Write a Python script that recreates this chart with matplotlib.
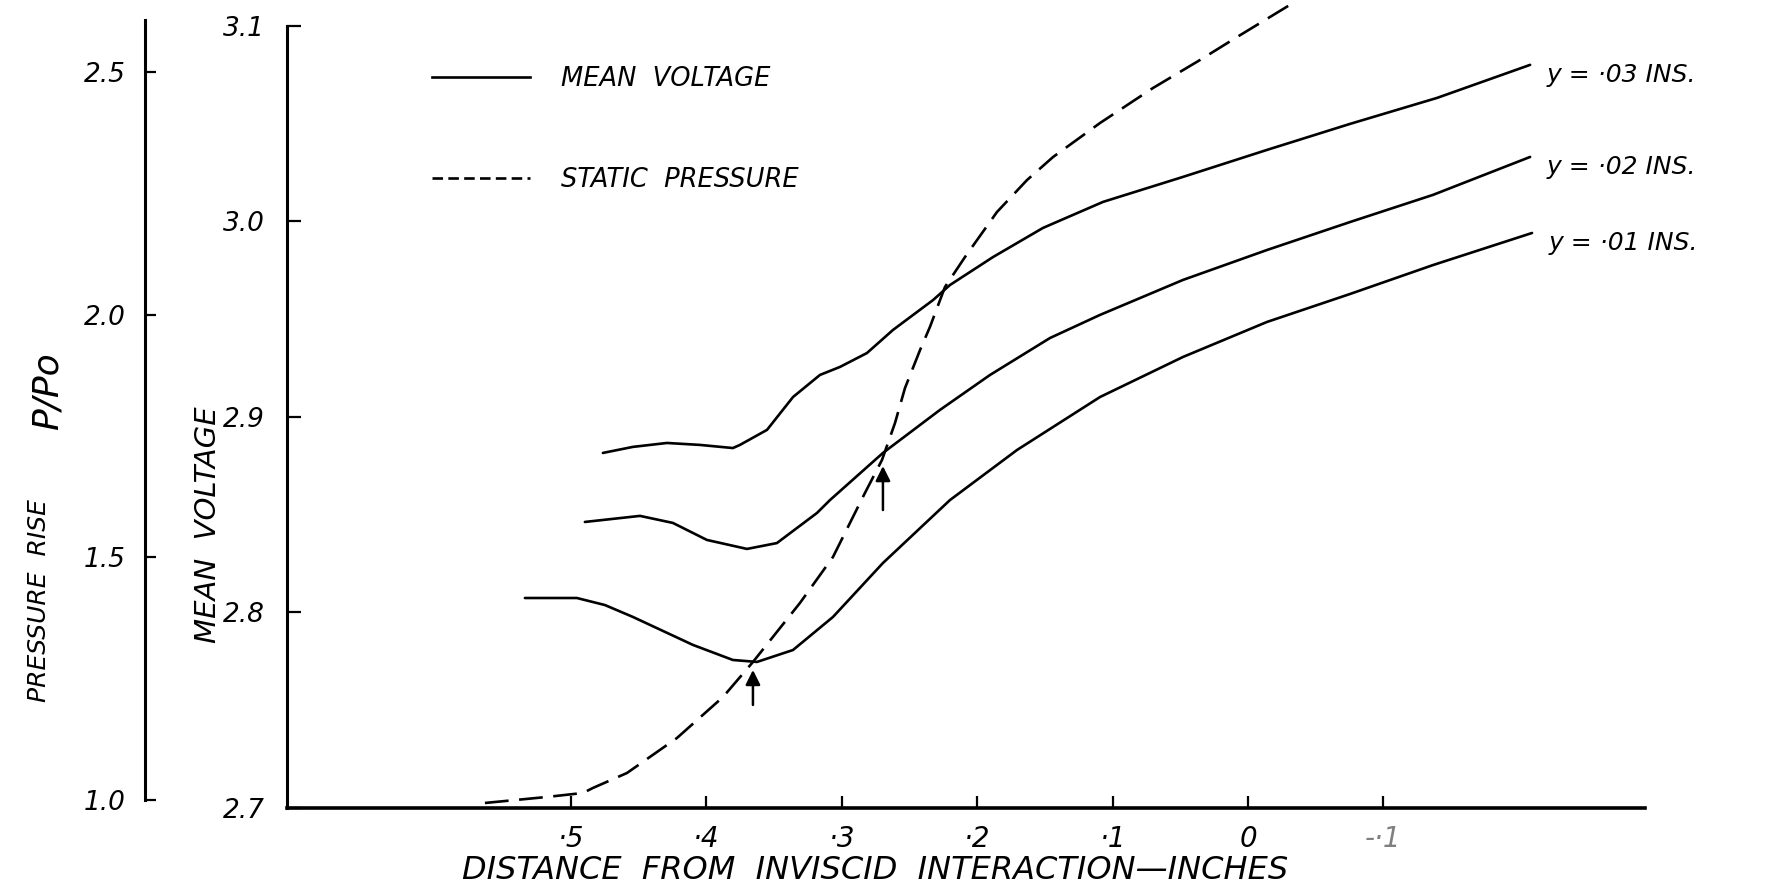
import matplotlib
matplotlib.use('Agg')
import matplotlib.pyplot as plt
from matplotlib.lines import Line2D

plt.rcParams['font.family'] = 'DejaVu Sans'
plt.rcParams['font.style'] = 'italic'

# mean voltage vs distance from inviscid interaction (inches), one trace per probe height
dist_03 = [0.4764, 0.4542, 0.4291, 0.4047, 0.3804, 0.3752, 0.3552, 0.3360, 0.3161,
           0.3013, 0.2814, 0.2622, 0.2326, 0.2201, 0.1883, 0.1514, 0.1071, 0.0480,
           -0.0140, -0.0753, -0.1396, -0.2083]
volt_03 = [2.8816, 2.8847, 2.8867, 2.8857, 2.8841, 2.8857, 2.8934, 2.9102, 2.9215,
           2.9256, 2.9327, 2.9445, 2.9598, 2.9675, 2.9818, 2.9967, 3.0100, 3.0228,
           3.0366, 3.0499, 3.0632, 3.0801]

dist_02 = [0.4897, 0.4490, 0.4247, 0.3996, 0.3700, 0.3479, 0.3183, 0.3087, 0.2696,
           0.2275, 0.1905, 0.1462, 0.1093, 0.0480, -0.0140, -0.0753, -0.1366, -0.2083]
volt_02 = [2.8463, 2.8494, 2.8458, 2.8371, 2.8325, 2.8355, 2.8509, 2.8575, 2.8816,
           2.9036, 2.9215, 2.9404, 2.9522, 2.9701, 2.9854, 2.9997, 3.0136, 3.0330]

dist_01 = [0.5340, 0.4956, 0.4749, 0.4542, 0.4099, 0.3804, 0.3626, 0.3360, 0.3065,
           0.2696, 0.2201, 0.1706, 0.1093, 0.0480, -0.0140, -0.0753, -0.1366, -0.2097]
volt_01 = [2.8074, 2.8074, 2.8038, 2.7977, 2.7834, 2.7757, 2.7747, 2.7808, 2.7977,
           2.8253, 2.8575, 2.8831, 2.9102, 2.9307, 2.9486, 2.9629, 2.9777, 2.9941]

# static pressure rise P/Po
dist_p = [0.5635, 0.5177, 0.4911, 0.4838, 0.4586, 0.4217, 0.3877, 0.3656, 0.3309,
          0.3065, 0.2829, 0.2703, 0.2607, 0.2533, 0.2422, 0.2349, 0.2238, 0.2090,
          0.1854, 0.1632, 0.1440, 0.1093, 0.0702, 0.0355, 0.0081, -0.0332]
press_p = [0.9938, 1.0062, 1.0144, 1.0247, 1.0556, 1.1277, 1.2122, 1.2843, 1.4059,
           1.5007, 1.6326, 1.7006, 1.7768, 1.8490, 1.9272, 1.9747, 2.0571, 2.1189,
           2.2116, 2.2775, 2.3249, 2.3950, 2.4671, 2.5248, 2.5722, 2.6423]

# arrows marking where the pressure rise meets the voltage traces
arrow_dist = [0.3656, 0.2696]
arrow_from = [2.7527, 2.8524]
arrow_to = [2.7706, 2.8749]

x_ticks = [0.5, 0.4, 0.3, 0.2, 0.1, 0.0, -0.1]
x_ticklabels = ['·5', '·4', '·3', '·2', '·1', '0', '-·1']
v_ticks = [2.7, 2.8, 2.9, 3.0, 3.1]
v_ticklabels = ['2.7', '2.8', '2.9', '3.0', '3.1']
p_ticks = [1.0, 1.5, 2.0, 2.5]
p_ticklabels = ['1.0', '1.5', '2.0', '2.5']
curve_labels = ['y = ·03 INS.', 'y = ·02 INS.', 'y = ·01 INS.']

fig = plt.figure(figsize=(17.67, 8.92), dpi=100)
ax = fig.add_axes([0.1624, 0.0942, 0.7686, 0.8767])
ax.set_xlim(0.7097, -0.2932)
ax.set_ylim(2.7, 3.1)

# voltage traces
curves = [(dist_03, volt_03), (dist_02, volt_02), (dist_01, volt_01)]
for (d, v), lab in zip(curves, curve_labels):
    ax.plot(d, v, color='black', lw=1.9, solid_capstyle='round', solid_joinstyle='round')
    ax.annotate(lab, xy=(d[-1], v[-1]), xytext=(12, -7), textcoords='offset points',
                va='center', ha='left', fontsize=18)

for d, v0, v1 in zip(arrow_dist, arrow_from, arrow_to):
    ax.annotate('', xy=(d, v1), xytext=(d, v0),
                arrowprops=dict(arrowstyle='-|>', color='black', lw=1.8,
                                mutation_scale=22, shrinkA=0, shrinkB=0))

# pressure axis sits further left, sharing the distance axis
ax2 = ax.twinx()
ax2.set_ylim(0.9835, 2.595)
ax2.plot(dist_p, press_p, color='black', lw=1.9, dashes=(9, 4), clip_on=False)

ax2.spines['right'].set_visible(False)
ax2.spines['top'].set_visible(False)
ax2.spines['bottom'].set_visible(False)
ax2.spines['left'].set_visible(True)
ax2.spines['left'].set_position(('axes', -0.1046))
ax2.spines['left'].set_bounds(1.0, 2.607)
ax2.spines['left'].set_linewidth(2.2)
ax2.yaxis.set_ticks_position('left')
ax2.set_yticks(p_ticks)
ax2.set_yticklabels(p_ticklabels)
ax2.tick_params(axis='y', direction='in', length=8, width=1.6, pad=14, labelsize=19)

ax.spines['right'].set_visible(False)
ax.spines['top'].set_visible(False)
ax.spines['left'].set_bounds(2.7, 3.1)
ax.spines['left'].set_linewidth(2.2)
ax.spines['bottom'].set_linewidth(2.6)
ax.set_yticks(v_ticks)
ax.set_yticklabels(v_ticklabels)
ax.tick_params(axis='y', direction='in', length=10, width=1.6, pad=16, labelsize=19)
ax.set_xticks(x_ticks)
ax.set_xticklabels(x_ticklabels)
ax.tick_params(axis='x', direction='in', length=9, width=1.6, pad=12, labelsize=20)
ax.get_xticklabels()[-1].set_color('0.5')

# legend
handles = [Line2D([], [], color='black', lw=1.9),
           Line2D([], [], color='black', lw=1.9, dashes=(4, 2))]
fig.legend(handles, ['MEAN  VOLTAGE', 'STATIC  PRESSURE'], loc='upper left',
           bbox_to_anchor=(0.2445, 0.926), frameon=False, fontsize=18.5,
           handlelength=3.8, handletextpad=1.2, labelspacing=2.9,
           borderpad=0, borderaxespad=0)

# axis titles
fig.text(0.495, 0.024, 'DISTANCE  FROM  INVISCID  INTERACTION—INCHES',
         ha='center', va='center', fontsize=23)
fig.text(0.022, 0.327, 'PRESSURE  RISE', rotation=90, ha='center', va='center',
         fontsize=18)
fig.text(0.027, 0.562, 'P/Po', rotation=90, ha='center', va='center', fontsize=26)
fig.text(0.1177, 0.412, 'MEAN  VOLTAGE', rotation=90, ha='center', va='center',
         fontsize=21)

fig.savefig('out.png', dpi=100)
